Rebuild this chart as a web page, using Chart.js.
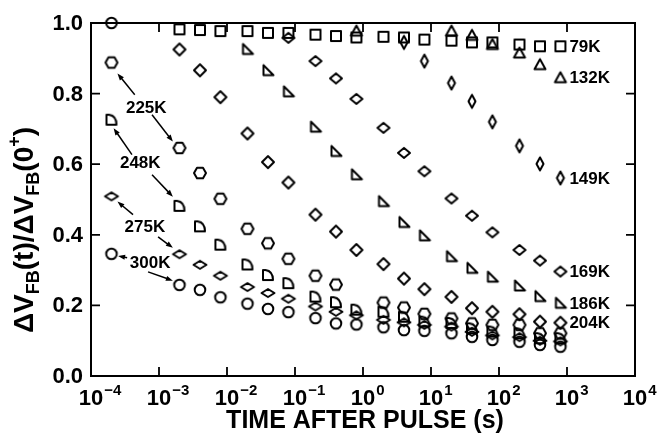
<!DOCTYPE html>
<html>
<head>
<meta charset="utf-8">
<script src="https://cdn.jsdelivr.net/npm/chart.js@4.4.1/dist/chart.umd.min.js"></script>
<style>
html, body { margin: 0; padding: 0; background: #fff; }
#wrap { width: 658px; height: 435px; }
</style>
</head>
<body>
<div id="wrap"><canvas id="chart" width="658" height="435"></canvas></div>
<script>
// time after pulse (s), shared by every temperature
const times = [2e-4, 2e-3, 4e-3, 8e-3, 2e-2, 4e-2, 8e-2, 0.2, 0.4, 0.8, 2, 4, 8, 20, 40, 80, 200, 400, 800];

// normalised flatband shift per temperature (null = no point)
const k79  = [null, .982, .980, .977, .977, .972, .972, .967, .963, .959, .961, .959, .953, .950, .945, .945, .939, .934, .934];
const k132 = [null, null, null, null, null, null, null, null, null, .977, null, null, null, .977, .965, .939, .915, .882, .845];
const k149 = [null, null, null, null, null, null, null, null, null, null, null, .945, .892, .830, .778, .720, .652, .601, .561];
const k169 = [null, null, null, null, null, null, .958, .892, .843, .785, .703, .632, .580, .503, .454, .407, .357, .327, .296];
const k186 = [null, null, null, null, .925, .865, .805, .705, .636, .570, .494, .435, .397, .338, .305, .280, .255, .225, .206];
const k204 = [null, .925, .866, .790, .687, .606, .548, .457, .409, .357, .317, .276, .246, .224, .192, .182, .175, .154, .151];
const k225 = [.888, .646, .575, .502, .417, .376, .332, .284, .259, null, .208, .194, .176, .163, .149, .145, .145, .121, .121];
const k248 = [.726, .482, .424, .372, .316, .286, .263, .225, .209, .188, .182, .168, .154, .150, .135, .126, .121, .107, .107];
const k275 = [.509, .345, .315, .284, .252, .235, .219, .197, .182, .172, .159, .152, .145, .140, .125, .115, .110, .100, .098];
const k300 = [.346, .258, .244, .223, .205, .190, .181, .164, .149, .146, .138, .130, .128, .121, .111, .102, .097, .088, .083];
const t0Point = [1.0];

const xTicks = [1e-4, 1e-3, 1e-2, 1e-1, 1e0, 1e1, 1e2, 1e3, 1e4];
const yTicks = [0, 0.2, 0.4, 0.6, 0.8, 1.0];

// labels at the right end of a series
const endLabels = [
    { text: '79K', values: k79 },
    { text: '132K', values: k132 },
    { text: '149K', values: k149 },
    { text: '169K', values: k169 },
    { text: '186K', values: k186 },
    { text: '204K', values: k204 }
];

// arrowed labels on the left: label position, then arrows [x1, y1, x2, y2]
const arrowLabels = [
    { text: '225K', at: [6.5e-4, 0.760], arrows: [[4.4e-4, 0.797, 2.45e-4, 0.857], [7.9e-4, 0.740, 1.6e-3, 0.664]] },
    { text: '248K', at: [5.3e-4, 0.604], arrows: [[4.0e-4, 0.627, 2.15e-4, 0.702], [7.9e-4, 0.570, 1.6e-3, 0.508]] },
    { text: '275K', at: [6.2e-4, 0.423], arrows: [[4.15e-4, 0.457, 2.45e-4, 0.494], [9.7e-4, 0.394, 1.6e-3, 0.363]] },
    { text: '300K', at: [7.4e-4, 0.321], arrows: [[3.4e-4, 0.335, 2.5e-4, 0.340], [6.9e-4, 0.295, 1.6e-3, 0.270]] }
];

const FONT = "'Liberation Sans', Arial, sans-serif";

function marker(kind) {
    const c = document.createElement('canvas');
    c.width = 18; c.height = 18;
    const g = c.getContext('2d');
    g.translate(9, 9);
    g.lineWidth = 2;
    g.strokeStyle = '#000';
    g.lineJoin = 'round';
    g.beginPath();
    if (kind === 'square') {
        g.rect(-5, -5, 10, 10);
    } else if (kind === 'circle') {
        g.arc(0, 0, 5.3, 0, Math.PI * 2);
    } else if (kind === 'hexagon') {
        for (let i = 0; i < 6; i++) {
            const a = i * Math.PI / 3;
            g.lineTo(6 * Math.cos(a), 6 * Math.sin(a));
        }
        g.closePath();
    } else if (kind === 'triangle') {
        g.moveTo(0, -5.5); g.lineTo(5.5, 4.5); g.lineTo(-5.5, 4.5); g.closePath();
    } else if (kind === 'rightTri') {
        g.moveTo(-4.5, -5.5); g.lineTo(-4.5, 4.5); g.lineTo(5.5, 4.5); g.closePath();
    } else if (kind === 'halfDisc') {
        g.moveTo(-5, 5); g.lineTo(-5, -5); g.lineTo(-2.5, -5);
        g.quadraticCurveTo(5, -4, 5, 5); g.closePath();
    } else if (kind === 'diamond') {
        g.moveTo(0, -6); g.lineTo(6, 0); g.lineTo(0, 6); g.lineTo(-6, 0); g.closePath();
    } else if (kind === 'wideDiamond') {
        g.moveTo(0, -5); g.lineTo(6, 0); g.lineTo(0, 5); g.lineTo(-6, 0); g.closePath();
    } else if (kind === 'flatDiamond') {
        g.moveTo(0, -4); g.lineTo(6.5, 0); g.lineTo(0, 4); g.lineTo(-6.5, 0); g.closePath();
    } else if (kind === 'tallDiamond') {
        g.moveTo(0, -6.5); g.lineTo(3.5, 0); g.lineTo(0, 6.5); g.lineTo(-3.5, 0); g.closePath();
    }
    g.stroke();
    return c;
}

function points(values, xs) {
    return values.map((v, i) => ({ x: (xs || times)[i], y: v })).filter(p => p.y !== null);
}

function series(label, values, shape, xs) {
    return {
        label,
        data: points(values, xs),
        pointStyle: marker(shape),
        showLine: false,
        clip: false
    };
}

function drawText(ctx, text, x, y, size, align, baseline) {
    ctx.font = 'bold ' + size + 'px ' + FONT;
    ctx.textAlign = align || 'left';
    ctx.textBaseline = baseline || 'alphabetic';
    ctx.fillText(text, x, y);
}

function drawArrow(ctx, x1, y1, x2, y2) {
    const a = Math.atan2(y2 - y1, x2 - x1);
    const len = 7, half = 2.6;
    ctx.beginPath();
    ctx.moveTo(x1, y1);
    ctx.lineTo(x2 - Math.cos(a) * len * 0.8, y2 - Math.sin(a) * len * 0.8);
    ctx.stroke();
    ctx.beginPath();
    ctx.moveTo(x2, y2);
    ctx.lineTo(x2 - Math.cos(a) * len - Math.sin(a) * half, y2 - Math.sin(a) * len + Math.cos(a) * half);
    ctx.lineTo(x2 - Math.cos(a) * len + Math.sin(a) * half, y2 - Math.sin(a) * len - Math.cos(a) * half);
    ctx.closePath();
    ctx.fill();
}

function supText(n) {
    return n < 0 ? '\u2212' + (-n) : String(n);
}

const decorations = {
    id: 'decorations',
    afterDatasetsDraw(chart) {
        const ctx = chart.ctx;
        const area = chart.chartArea;
        const xs = chart.scales.x;
        const ys = chart.scales.y;
        ctx.save();
        ctx.strokeStyle = '#000';
        ctx.fillStyle = '#000';

        // frame
        ctx.lineWidth = 2;
        ctx.strokeRect(area.left, area.top, area.right - area.left, area.bottom - area.top);

        // inward ticks
        ctx.lineWidth = 1.8;
        ctx.beginPath();
        xTicks.slice(1, -1).forEach(t => {
            const px = xs.getPixelForValue(t);
            ctx.moveTo(px, area.bottom); ctx.lineTo(px, area.bottom - 9);
            ctx.moveTo(px, area.top); ctx.lineTo(px, area.top + 9);
        });
        yTicks.slice(1, -1).forEach(v => {
            const py = ys.getPixelForValue(v);
            ctx.moveTo(area.left, py); ctx.lineTo(area.left + 9, py);
            ctx.moveTo(area.right, py); ctx.lineTo(area.right - 9, py);
        });
        ctx.stroke();

        // y tick labels
        yTicks.forEach(v => {
            drawText(ctx, v.toFixed(1), area.left - 8, ys.getPixelForValue(v) + 1, 22, 'right', 'middle');
        });

        // x tick labels 10^n
        xTicks.forEach(t => {
            const px = xs.getPixelForValue(t);
            const n = Math.round(Math.log10(t));
            drawText(ctx, '10', px, 405, 22, 'center');
            ctx.font = 'bold 22px ' + FONT;
            const w = ctx.measureText('10').width;
            drawText(ctx, supText(n), px + w / 2 + 1, 395, 15, 'left');
        });

        // axis titles
        drawText(ctx, 'TIME AFTER PULSE (s)', 365, 428, 25, 'center');

        const parts = [
            ['\u0394V', 28, 0], ['FB', 18, 6], ['(t)/\u0394V', 28, 0], ['FB', 18, 6],
            ['(0', 28, 0], ['+', 18, -13], [')', 28, 0]
        ];
        let total = 0;
        parts.forEach(p => { ctx.font = 'bold ' + p[1] + 'px ' + FONT; total += ctx.measureText(p[0]).width; });
        ctx.save();
        ctx.translate(33, 230);
        ctx.rotate(-Math.PI / 2);
        let cx = -total / 2;
        parts.forEach(p => {
            drawText(ctx, p[0], cx, p[2], p[1], 'left');
            ctx.font = 'bold ' + p[1] + 'px ' + FONT;
            cx += ctx.measureText(p[0]).width;
        });
        ctx.restore();

        // labels at series ends
        endLabels.forEach(l => {
            const last = l.values.length - 1;
            const px = xs.getPixelForValue(times[last]);
            const py = ys.getPixelForValue(l.values[last]);
            drawText(ctx, l.text, px + 9, py + 1, 17, 'left', 'middle');
        });

        // arrowed labels
        ctx.lineWidth = 1.5;
        arrowLabels.forEach(l => {
            drawText(ctx, l.text, xs.getPixelForValue(l.at[0]), ys.getPixelForValue(l.at[1]) + 1, 17, 'center', 'middle');
            l.arrows.forEach(a => {
                drawArrow(ctx, xs.getPixelForValue(a[0]), ys.getPixelForValue(a[1]),
                    xs.getPixelForValue(a[2]), ys.getPixelForValue(a[3]));
            });
        });

        ctx.restore();
    }
};

new Chart(document.getElementById('chart'), {
    type: 'scatter',
    data: {
        datasets: [
            series('t0', t0Point, 'circle', [times[0]]),
            series('79K', k79, 'square'),
            series('132K', k132, 'triangle'),
            series('149K', k149, 'tallDiamond'),
            series('169K', k169, 'wideDiamond'),
            series('186K', k186, 'rightTri'),
            series('204K', k204, 'diamond'),
            series('225K', k225, 'hexagon'),
            series('248K', k248, 'halfDisc'),
            series('275K', k275, 'flatDiamond'),
            series('300K', k300, 'circle')
        ]
    },
    options: {
        responsive: false,
        animation: false,
        devicePixelRatio: 1,
        layout: { padding: { left: 91, right: 23, top: 23, bottom: 59 } },
        plugins: {
            legend: { display: false },
            tooltip: { enabled: false }
        },
        scales: {
            x: { type: 'logarithmic', min: 1e-4, max: 1e4, display: false },
            y: { type: 'linear', min: 0, max: 1, display: false }
        }
    },
    plugins: [decorations]
});
</script>
</body>
</html>
